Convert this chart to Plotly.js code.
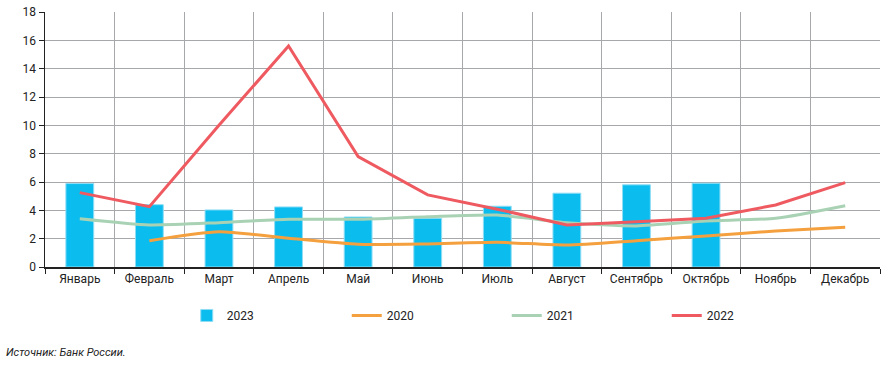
<!DOCTYPE html>
<html><head><meta charset="utf-8">
<script src="https://cdn.plot.ly/plotly-3.0.1.min.js"></script>
<style>body{margin:0;background:#fff}#c{width:892px;height:367px}</style>
</head><body><div id="c"></div>
<script>
const months = ["Январь","Февраль","Март","Апрель","Май","Июнь","Июль","Август","Сентябрь","Октябрь","Ноябрь","Декабрь"];
const v2023 = [5.89, 4.40, 4.03, 4.24, 3.53, 3.44, 4.29, 5.21, 5.80, 5.91, null, null];
const v2020 = [null, 1.86, 2.49, 2.03, 1.60, 1.63, 1.74, 1.55, 1.86, 2.19, 2.54, 2.80];
const v2021 = [3.41, 2.97, 3.13, 3.37, 3.37, 3.55, 3.67, 3.13, 2.90, 3.25, 3.44, 4.33];
const v2022 = [5.25, 4.26, 10.0, 15.6, 7.80, 5.09, 4.08, 2.97, 3.20, 3.44, 4.38, 5.96];
const yTicks = [0,2,4,6,8,10,12,14,16,18];

const font = "'Roboto', sans-serif";
const traces = [
  {type:'bar', name:'2023', x:months, y:v2023, marker:{color:'#0BBDEF', line:{color:'#8FDDF5', width:1}}},
  {type:'scatter', mode:'lines', name:'2020', x:months, y:v2020, line:{color:'#F5A03E', width:3, shape:'spline', smoothing:0.6}},
  {type:'scatter', mode:'lines', name:'2021', x:months, y:v2021, line:{color:'#A9D2B5', width:3, shape:'spline', smoothing:0.6}},
  {type:'scatter', mode:'lines', name:'2022', x:months, y:v2022, line:{color:'#EE5A60', width:3}}
];
const layout = {
  width:892, height:367,
  margin:{l:45, r:12, t:12, b:100},
  paper_bgcolor:'#fff', plot_bgcolor:'#fff',
  font:{family:font, size:12, color:'#222'},
  bargap:0.6,
  showlegend:true,
  legend:{orientation:'h', x:0.553, xanchor:'center', y:-0.19, yanchor:'middle', entrywidth:115, font:{size:12, color:'#222'}, traceorder:'normal'},
  xaxis:{type:'category', tickson:'boundaries', showgrid:true, gridcolor:'#A6A8AB', gridwidth:1,
         showline:true, linecolor:'#222', linewidth:1.5, ticks:'outside', ticklen:5, tickcolor:'#222',
         tickfont:{size:12}, range:[-0.5,11.5], fixedrange:true},
  yaxis:{range:[0,18], tickvals:yTicks, ticktext:yTicks.map(String), showgrid:true, gridcolor:'#A6A8AB', gridwidth:1,
         showline:true, linecolor:'#222', linewidth:1.5, ticks:'outside', ticklen:5, tickcolor:'#222',
         zeroline:false, tickfont:{size:12}},
  annotations:[{text:'<i>Источник: Банк России.</i>', xref:'paper', yref:'paper', x:-45/835, xanchor:'left', y:-85/255, yanchor:'middle', showarrow:false, font:{size:11, color:'#222'}, xshift:4}]
};
Plotly.newPlot('c', traces, layout, {staticPlot:true});
</script></body></html>
